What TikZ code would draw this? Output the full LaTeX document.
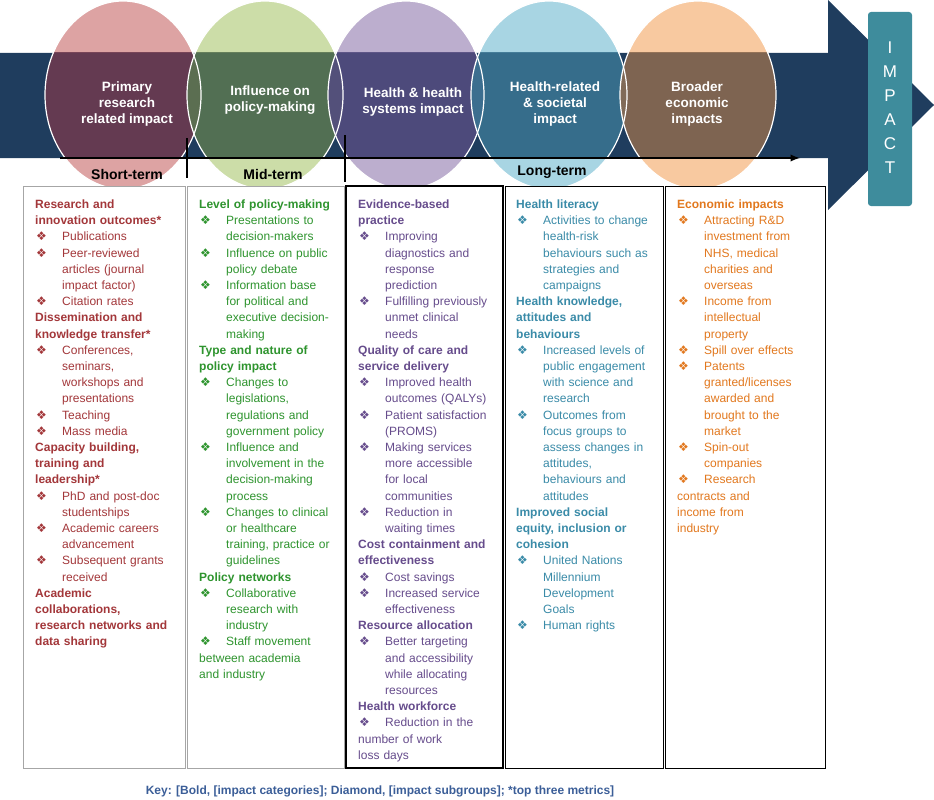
\documentclass[tikz,border=0pt]{standalone}
\usepackage{fontspec}
\setmainfont{Liberation Sans}
\newfontfamily\symfont{DejaVu Sans}
\usetikzlibrary{positioning}

\definecolor{navy}{HTML}{1F3D5E}
\definecolor{tealbox}{HTML}{3E8C9C}
\definecolor{redtxt}{HTML}{A3373A}
\definecolor{greentxt}{HTML}{2E942E}
\definecolor{purpletxt}{HTML}{664C8C}
\definecolor{bluetxt}{HTML}{3A8BA8}
\definecolor{orangetxt}{HTML}{E2781E}
\definecolor{keytxt}{HTML}{3B5E98}
\definecolor{pinkc}{HTML}{DDA3A3}
\definecolor{greenc}{HTML}{CCDDA8}
\definecolor{lilacc}{HTML}{BCAECE}
\definecolor{bluec}{HTML}{A8D5E3}
\definecolor{peachc}{HTML}{F8C9A0}
\definecolor{pinkd}{HTML}{6E3A50}
\definecolor{greend}{HTML}{5A7652}
\definecolor{lilacd}{HTML}{544C80}
\definecolor{blued}{HTML}{3A7492}
\definecolor{peachd}{HTML}{8C6A50}

\newcommand{\hd}[1]{\par\noindent{\let\\\newline\textbf{#1}}}
\newcommand{\itm}[1]{\par\hangindent=27pt\hangafter=1\noindent\makebox[27pt][l]{\hspace{1pt}{\symfont ❖}}{\let\\\newline#1}}

\tikzset{
  coltext/.style={anchor=north west, text width=152pt, inner sep=0pt,
    execute at begin node=\raggedright,
    font=\fontsize{12}{16.2}\selectfont},
  circlabel/.style={text=white, align=center, font=\fontsize{13.5}{16}\selectfont\bfseries},
  termlabel/.style={font=\fontsize{14}{16}\selectfont\bfseries},
}

\begin{document}
\begin{tikzpicture}[x=1pt,y=-1pt]
\useasboundingbox (0,0) rectangle (934,800);

% light circles
\foreach \cx/\cc in {123/pinkc,265/greenc,406/lilacc,549/bluec,698/peachc}
  \fill[\cc] (\cx,95) ellipse (78 and 94);

% big arrow
\fill[navy] (0,53) -- (828,53) -- (828,0) -- (934,105) -- (828,210) -- (828,158) -- (0,158) -- cycle;

% circles seen through the arrow
\begin{scope}
  \clip (0,53) rectangle (828,158);
  \foreach \cx/\cc in {123/pinkd,265/greend,406/lilacd,549/blued,698/peachd}
    \fill[\cc, opacity=0.88] (\cx,95) ellipse (78 and 94);
\end{scope}
\foreach \cx in {123,265,406,549,698}
  \draw[white, line width=1.2pt] (\cx,95) ellipse (78 and 94);

\node[circlabel] (c1) at (127,104) {Primary\\research\\related impact};
\node[circlabel] (c2) at (270,100) {Influence on\\policy-making};
\node[circlabel] (c3) at (413,102) {Health \& health\\systems impact};
\node[circlabel] (c4) at (555,104) {Health-related\\\& societal\\impact};
\node[circlabel] (c5) at (697,104) {Broader\\economic\\impacts};

% time line
\coordinate (t0) at (60,158);
\coordinate (t1) at (800,158);
\draw[line width=2.2pt, -latex] (t0) -- (t1);
\draw[line width=1.5pt] (187,138) -- (187,178);
\draw[line width=1.5pt] (345,135) -- (345,182);
\node[termlabel] (st) at (127,174) {Short-term};
\node[termlabel] (mt) at (273,174) {Mid-term};
\node[termlabel] (lt) at (552,172) {Long-term};

% IMPACT box
\fill[tealbox, rounded corners=3pt] (868,12) rectangle (912,206);
\node[text=white, align=center, font=\fontsize{17}{24}\selectfont] (imp) at (890,108) {I\\M\\P\\A\\C\\T};

% column boxes
\fill[white] (23,186) rectangle (825,768);
\draw[gray!70] (23,186) rectangle (185,768);
\draw[gray!70] (187,186) rectangle (344,768);
\draw[black, line width=1.2pt] (346,186) rectangle (503,768);
\draw[black] (505,186) rectangle (663,768);
\draw[black] (665,186) rectangle (825,768);

\node[coltext, text=redtxt] (col1) at (35,192) {%
\hd{Research and\\innovation outcomes*}
\itm{Publications}
\itm{Peer-reviewed\\articles (journal\\impact factor)}
\itm{Citation rates}
\hd{Dissemination and\\knowledge transfer*}
\itm{Conferences,\\seminars,\\workshops and\\presentations}
\itm{Teaching}
\itm{Mass media}
\hd{Capacity building,\\training and\\leadership*}
\itm{PhD and post-doc\\studentships}
\itm{Academic careers\\advancement}
\itm{Subsequent grants\\received}
\hd{Academic\\collaborations,\\research networks and\\data sharing}};

\node[coltext, text=greentxt] (col2) at (199,192) {%
\hd{Level of policy-making}
\itm{Presentations to\\decision-makers}
\itm{Influence on public\\policy debate}
\itm{Information base\\for political and\\executive decision-\\making}
\hd{Type and nature of\\policy impact}
\itm{Changes to\\legislations,\\regulations and\\government policy}
\itm{Influence and\\involvement in the\\decision-making\\process}
\itm{Changes to clinical\\or healthcare\\training, practice or\\guidelines}
\hd{Policy networks}
\itm{Collaborative\\research with\\industry}
\itm{Staff movement\\between academia\\and industry}};

\node[coltext, text=purpletxt] (col3) at (358,192) {%
\hd{Evidence-based\\practice}
\itm{Improving\\diagnostics and\\response\\prediction}
\itm{Fulfilling previously\\unmet clinical\\needs}
\hd{Quality of care and\\service delivery}
\itm{Improved health\\outcomes (QALYs)}
\itm{Patient satisfaction\\(PROMS)}
\itm{Making services\\more accessible\\for local\\communities}
\itm{Reduction in\\waiting times}
\hd{Cost containment and\\effectiveness}
\itm{Cost savings}
\itm{Increased service\\effectiveness}
\hd{Resource allocation}
\itm{Better targeting\\and accessibility\\while allocating\\resources}
\hd{Health workforce}
\itm{Reduction in the\\number of work\\loss days}};

\node[coltext, text=bluetxt] (col4) at (516,192) {%
\hd{Health literacy}
\itm{Activities to change\\health-risk\\behaviours such as\\strategies and\\campaigns}
\hd{Health knowledge,\\attitudes and\\behaviours}
\itm{Increased levels of\\public engagement\\with science and\\research}
\itm{Outcomes from\\focus groups to\\assess changes in\\attitudes,\\behaviours and\\attitudes}
\hd{Improved social\\equity, inclusion or\\cohesion}
\itm{United Nations\\Millennium\\Development\\Goals}
\itm{Human rights}};

\node[coltext, text=orangetxt] (col5) at (677,192) {%
\hd{Economic impacts}
\itm{Attracting R\&D\\investment from\\NHS, medical\\charities and\\overseas}
\itm{Income from\\intellectual\\property}
\itm{Spill over effects}
\itm{Patents\\granted/licenses\\awarded and\\brought to the\\market}
\itm{Spin-out\\companies}
\itm{Research\\contracts and\\income from\\industry}};

\node[text=keytxt, font=\fontsize{12}{14}\selectfont\bfseries] (key) at (380,791)
  {Key: [Bold, [impact categories]; Diamond, [impact subgroups]; *top three metrics]};
\end{tikzpicture}
\end{document}
